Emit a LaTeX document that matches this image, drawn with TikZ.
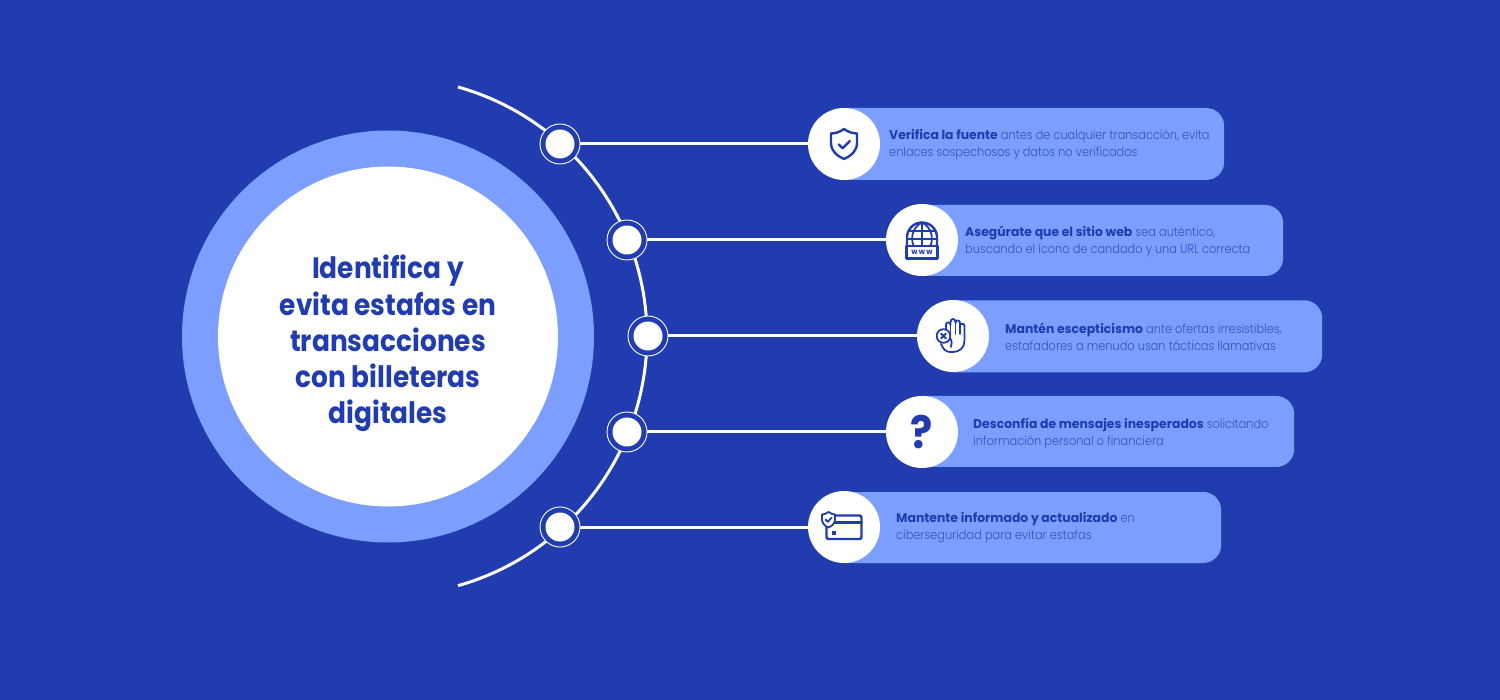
\documentclass[tikz,border=0pt]{standalone}
\usepackage{fontspec}
\setmainfont{Poppins}[UprightFont=* Light,BoldFont=* Bold,FakeStretch=0.90]
\newfontfamily\leadfont{Poppins}[UprightFont=* Bold,FakeStretch=0.985]
\newfontfamily\titlefont{Poppins}[UprightFont=* Bold,FakeStretch=0.895]
\newfontfamily\iconfont{Poppins}[UprightFont=* Bold,FakeStretch=0.92]
\definecolor{bgblue}{HTML}{213CAE}
\definecolor{lightblue}{HTML}{7B9EFF}
\definecolor{softtext}{HTML}{3452BF}
\tikzset{
  x=1pt,y=-1pt,
  wire/.style={draw=white,line width=3pt},
  ring/.style={circle,draw=white,line width=0.9pt,fill=bgblue,minimum size=40pt,inner sep=0pt},
  dotc/.style={circle,fill=white,minimum size=29pt,inner sep=0pt},
  iconc/.style={circle,fill=white,minimum size=72pt,inner sep=0pt},
  pill/.style={fill=lightblue,rounded corners=18pt,inner sep=0pt,minimum height=72pt,anchor=west},
  txt/.style={anchor=west,align=left,inner sep=0pt,font=\fontsize{12.6pt}{17pt}\selectfont,text=softtext},
  ink/.style={draw=bgblue,line width=2.4pt,line cap=round,line join=round},
  thin ink/.style={draw=bgblue,line width=1.8pt,line cap=round,line join=round},
}
\newcommand{\lead}[1]{\textcolor{bgblue}{\leadfont #1}}
\begin{document}
\begin{tikzpicture}
\useasboundingbox (0,0) rectangle (1500,700);
\fill[bgblue] (0,0) rectangle (1500,700);
% central disc
\node[circle,fill=lightblue,minimum size=412pt,inner sep=0pt] (outer) at (388,336.5) {};
\node[circle,fill=white,minimum size=340pt,inner sep=0pt] (inner) at (388,336.5) {};
\node[align=center,inner sep=0pt,text=bgblue,
      font=\titlefont\fontsize{29.5pt}{36.2pt}\selectfont] (title) at (388,343.5)
      {Identifica y\\evita estafas en\\transacciones\\con billeteras\\digitales};
% arc
\coordinate (arcs) at (458,87);
\draw[wire] (arcs) arc[start angle=74.3,end angle=-74.3,radius=259pt];
% pills
\node[pill,minimum width=398pt] (p1) at (826,144) {};
\node[pill,minimum width=379pt,minimum height=71pt] (p2) at (904,240.5) {};
\node[pill,minimum width=387pt] (p3) at (935,336.3) {};
\node[pill,minimum width=390pt,minimum height=71pt] (p4) at (904,431.5) {};
\node[pill,minimum width=395pt,minimum height=71pt] (p5) at (826,527.5) {};
% rings + dots
\foreach \n/\px/\py in {1/560/144,2/627/240,3/648/336,4/627/432,5/560/527}{
  \node[ring] (r\n) at (\px,\py) {};
  \node[dotc] (d\n) at (\px,\py) {};
}
% icon discs
\node[iconc] (c1) at (844,144) {};
\node[iconc] (c2) at (922,240) {};
\node[iconc] (c3) at (953,336) {};
\node[iconc] (c4) at (922,432) {\iconfont\fontsize{45pt}{45pt}\selectfont\textcolor{bgblue}{?}};
\node[iconc] (c5) at (844,527) {};
% connectors
\foreach \n in {1,...,5}{ \draw[wire] (r\n) -- (c\n); }
% texts
\node[txt] (t1) at (889,145) {\lead{Verifica la fuente} antes de cualquier transacción, evita\\enlaces sospechosos y datos no verificados};
\node[txt] (t2) at (965,241) {\lead{Asegúrate que el sitio web} sea auténtico,\\buscando el ícono de candado y una URL correcta};
\node[txt] (t3) at (1005,337) {\lead{Mantén escepticismo} ante ofertas irresistibles,\\estafadores a menudo usan tácticas llamativas};
\node[txt] (t4) at (973,433.5) {\lead{Desconfía de mensajes inesperados} solicitando\\información personal o financiera};
\node[txt] (t5) at (896,528) {\lead{Mantente informado y actualizado} en\\ciberseguridad para evitar estafas};
% shield icon
\draw[ink] (844,129) .. controls (848,132) and (853,133.5) .. (857,133.5) -- (857,143)
  .. controls (857,151) and (851,156) .. (844,159) .. controls (837,156) and (831,151) .. (831,143)
  -- (831,133.5) .. controls (835,133.5) and (840,132) .. (844,129) -- cycle;
\draw[ink] (838.8,144.5) -- (842.6,148.2) -- (849.8,141);
% globe icon
\draw[ink] (907,245.5) -- (907,237.5) arc[start angle=180,end angle=0,radius=15pt] -- (937,245.5);
\draw[thin ink] (922,222.5) -- (922,245.5);
\draw[thin ink] (922,222.5) .. controls (911,228) and (911,240) .. (913.5,245.5);
\draw[thin ink] (922,222.5) .. controls (933,228) and (933,240) .. (930.5,245.5);
\draw[thin ink] (909,231) -- (935,231);
\draw[thin ink] (907,239) -- (937,239);
\draw[ink] (906.5,246) rectangle (937.5,258.5);
\node[inner sep=0pt,text=bgblue,font=\iconfont\fontsize{7.8pt}{8pt}\selectfont] (www) at (922,252) {w\,w\,w};
% hand icon
\draw[thin ink] (946,333) -- (946,325) .. controls (946,321.5) and (950.5,321.5) .. (950.5,325) -- (950.5,322)
  .. controls (950.5,318) and (955.5,318) .. (955.5,322) -- (955.5,323)
  .. controls (955.5,319.5) and (960,319.5) .. (960,323) -- (960,326)
  .. controls (960,323) and (964.5,323) .. (964.5,326) -- (964.5,341)
  .. controls (964.5,348) and (959,352) .. (953,352) -- (950,352)
  .. controls (946,352) and (943,349) .. (941,344);
\draw[thin ink] (950.5,325) -- (950.5,334);
\draw[thin ink] (955.5,323) -- (955.5,334);
\draw[thin ink] (960,326) -- (960,334);
\draw[thin ink,fill=white] (943.5,336) circle[radius=6.8pt];
\draw[thin ink] (941,333.5) -- (946,338.5) (946,333.5) -- (941,338.5);
\draw[thin ink] (950,338) .. controls (952,341) and (952,344) .. (951,347);
% card icon
\draw[ink,rounded corners=2pt] (826.5,515.5) rectangle (861.5,539);
\draw[ink] (826.5,522.5) -- (861.5,522.5);
\fill[bgblue] (831.5,530.5) rectangle (835.5,534.5);
\draw[thin ink,fill=white] (828.5,512) .. controls (830.5,513.5) and (833,514.5) .. (835,514.5) -- (835,519.5)
  .. controls (835,523.5) and (832,526) .. (828.5,527.5) .. controls (825,526) and (822,523.5) .. (822,519.5)
  -- (822,514.5) .. controls (824,514.5) and (826.5,513.5) .. (828.5,512) -- cycle;
\draw[thin ink] (825.5,519.5) -- (827.8,521.8) -- (831.8,517.5);
\end{tikzpicture}
\end{document}
